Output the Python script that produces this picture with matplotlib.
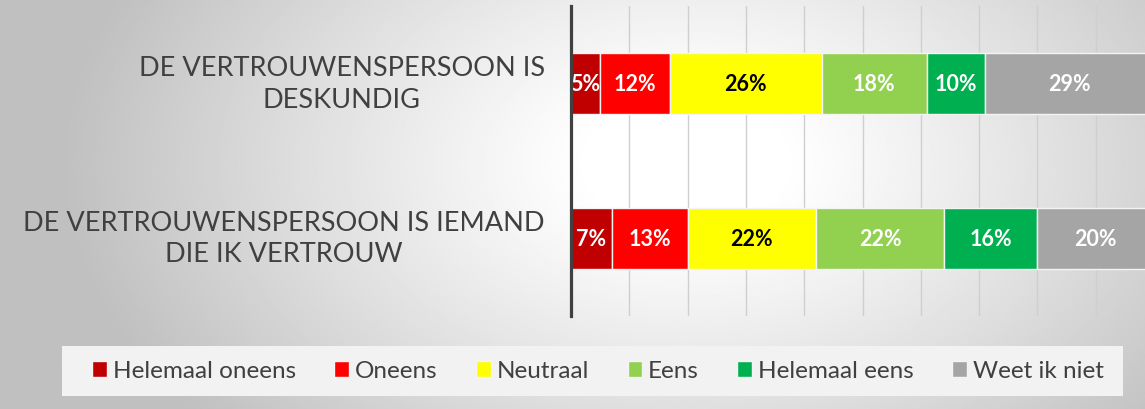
import numpy as np
import matplotlib
matplotlib.use("Agg")
import matplotlib.pyplot as plt
from matplotlib.patches import Patch, Rectangle

plt.rcParams['font.family'] = ['Lato', 'DejaVu Sans']

statements = ['DE VERTROUWENSPERSOON IS\nDESKUNDIG',
              'DE VERTROUWENSPERSOON IS IEMAND\nDIE IK VERTROUW']
answers = ['Helemaal oneens', 'Oneens', 'Neutraal', 'Eens',
           'Helemaal eens', 'Weet ik niet']
# share per answer (percent), one list per statement
deskundig = [5, 12, 26, 18, 10, 29]
vertrouw = [7, 13, 22, 22, 16, 20]
colors = ['#C00000', '#FF0000', '#FFFF00', '#92D050', '#00B050', '#A5A5A5']
label_colors = ['white', 'white', 'black', 'white', 'white', 'white']

values = np.array([deskundig, vertrouw]) / 100.0

fig = plt.figure(figsize=(11.45, 4.10), dpi=100)

# radial grey background
bg = fig.add_axes([0, 0, 1, 1], zorder=-10)
xx, yy = np.meshgrid(np.linspace(0, 1, 600), np.linspace(0, 1, 220))
r = np.sqrt(((xx - 0.6) / 0.55) ** 2 + ((yy - 0.6) / 1.0) ** 2)
shade = 1 - 0.25 * np.clip((r - 0.15) / 0.85, 0, 1) ** 1.1
bg.imshow(shade, cmap='gray', vmin=0, vmax=1, aspect='auto',
          extent=[0, 1, 0, 1], origin='lower')
# legend background box
bg.add_patch(Rectangle((62 / 1145, 13 / 410), 1061 / 1145, 50 / 410,
                       transform=bg.transAxes, facecolor='#f2f2f2',
                       edgecolor='none', zorder=2))
bg.set_xlim(0, 1)
bg.set_ylim(0, 1)
bg.axis('off')

ax = fig.add_axes([571 / 1145, 93 / 410, 583 / 1145, 310 / 410])
ax.set_facecolor('none')

ypos = np.arange(len(statements))
left = np.zeros(len(statements))
for i, name in enumerate(answers):
    vals = values[:, i]
    ax.barh(ypos, vals, left=left, height=0.39, color=colors[i],
            edgecolor='#f4f4f4', linewidth=1, zorder=3, label=name)
    for y, v, l in zip(ypos, vals, left):
        ax.text(l + v / 2, y, f'{round(v * 100)}%', ha='center', va='center',
                color=label_colors[i], fontsize=15.5, fontweight='bold', zorder=4)
    left += vals

ax.set_xlim(0, 1)
ax.set_ylim(1.5, -0.5)
ax.set_xticks(np.arange(0, 1.01, 0.1))
ax.xaxis.grid(True, color='#cfcfcf', linewidth=1, zorder=0)
ax.tick_params(length=0, labelbottom=False, labelleft=False)
ax.set_yticks([])
for s in ['top', 'right', 'bottom']:
    ax.spines[s].set_visible(False)
ax.spines['left'].set_color('#404040')
ax.spines['left'].set_linewidth(2.3)
ax.spines['left'].set_zorder(5)

for y, txt in zip(ypos, statements):
    ax.text(-0.045, y, txt, transform=ax.get_yaxis_transform(),
            ha='right', va='center', multialignment='center',
            fontsize=19.5, color='#404040', linespacing=1.3)

handles = [Patch(facecolor=c, edgecolor='#f4f4f4') for c in colors]
leg = fig.legend(handles, answers, ncol=6, loc='center',
                 bbox_to_anchor=(598 / 1145, 1 - 372 / 410),
                 frameon=False, fontsize=17.5,
                 handlelength=0.6, handleheight=0.6, handletextpad=0.25,
                 columnspacing=1.58, borderpad=0.3, borderaxespad=0,
                 labelcolor='#404040')

fig.savefig('out.png', dpi=100)
